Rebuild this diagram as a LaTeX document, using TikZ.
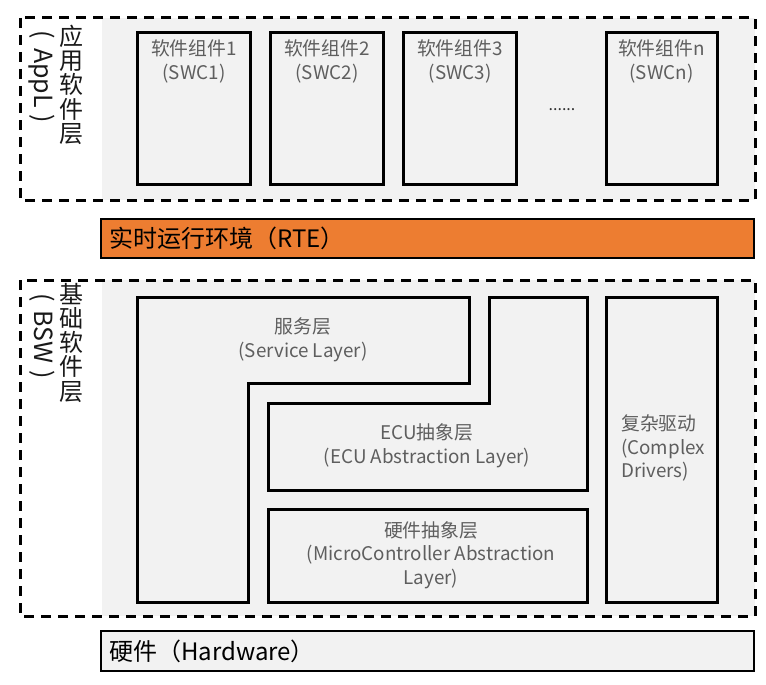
\documentclass[tikz,border=0pt]{standalone}
\usepackage{fontspec}
\setmainfont{Noto Sans CJK SC}
\definecolor{panel}{HTML}{F2F2F2}
\definecolor{rteorange}{HTML}{ED7D31}
\definecolor{txtgray}{HTML}{5E5E5E}
\begin{document}
\begin{tikzpicture}[x=1pt,y=-1pt,
  layer/.style={draw=black,dashed,line width=3pt,dash pattern=on 10pt off 7pt},
  block/.style={draw=black,line width=3pt,fill=panel,line join=miter},
  bar/.style={draw=black,line width=2.5pt},
  intext/.style={text=txtgray,font=\fontsize{18.8}{23.5}\selectfont,align=center,inner sep=0pt},
  bartext/.style={text=black,font=\fontsize{24}{28}\selectfont,anchor=west,inner sep=0pt},
  sidecjk/.style={text=black!90,font=\fontsize{24}{24.2}\selectfont,align=center,inner sep=0pt,anchor=north},
  sidelat/.style={text=black!90,font=\fontsize{25}{28}\selectfont,rotate=-90,inner sep=0pt}
]
\useasboundingbox (0,0) rectangle (766,685);
\fill[white] (0,0) rectangle (766,685);

% ---------- Application layer ----------
\fill[panel] (102,18) rectangle (755,200);
\draw[layer] (20,18) rectangle (755,200);
\node[sidecjk] (applcjk) at (71,25) {应\\用\\软\\件\\层};
\node[sidelat] (appllat) at (42,77) {(\kern9pt AppL\kern7pt)};

\draw[block] (137,33) rectangle (250,184);
\draw[block] (270,33) rectangle (383,184);
\draw[block] (403,33) rectangle (516,184);
\draw[block] (606,33) rectangle (717,184);
\node[intext] (swc1) at (194,61.5) {软件组件1\\(SWC1)};
\node[intext] (swc2) at (327,61.5) {软件组件2\\(SWC2)};
\node[intext] (swc3) at (460,61.5) {软件组件3\\(SWC3)};
\node[intext] (swcn) at (661.5,61.5) {软件组件n\\(SWCn)};
\node[text=black!80,font=\fontsize{16}{18}\selectfont,inner sep=0pt] (dots) at (562,110) {......};

% ---------- RTE ----------
\draw[bar,fill=rteorange] (101,219) rectangle (754,258);
\node[bartext] (rte) at (109,238.5) {实时运行环境（RTE）};

% ---------- BSW ----------
\fill[panel] (102,280) rectangle (755,616);
\draw[layer] (20,280) rectangle (755,616);
\node[sidecjk] (bswcjk) at (71,283) {基\\础\\软\\件\\层};
\node[sidelat] (bswlat) at (42,336) {(\kern9pt BSW\kern7pt)};

\draw[block] (137,297) -- (469,297) -- (469,383) -- (248,383) -- (248,602) -- (137,602) -- cycle;
\draw[block] (489,297) -- (587,297) -- (587,490) -- (268,490) -- (268,403) -- (489,403) -- cycle;
\draw[block] (268,509) rectangle (587,602);
\draw[block] (606,297) rectangle (717,602);

\node[intext] (svc) at (303,340) {服务层\\(Service Layer)};
\node[intext] (ecu) at (427,446) {ECU抽象层\\(ECU Abstraction Layer)};
\node[intext] (mcal) at (431,555) {硬件抽象层\\(MicroController Abstraction\\Layer)};
\node[intext,align=left,anchor=north west] (cdd) at (621,415) {复杂驱动\\(Complex\\Drivers)};

% ---------- Hardware ----------
\draw[bar,fill=panel] (101,631) rectangle (754,671);
\node[bartext] (hw) at (109,651) {硬件（Hardware）};
\end{tikzpicture}
\end{document}
